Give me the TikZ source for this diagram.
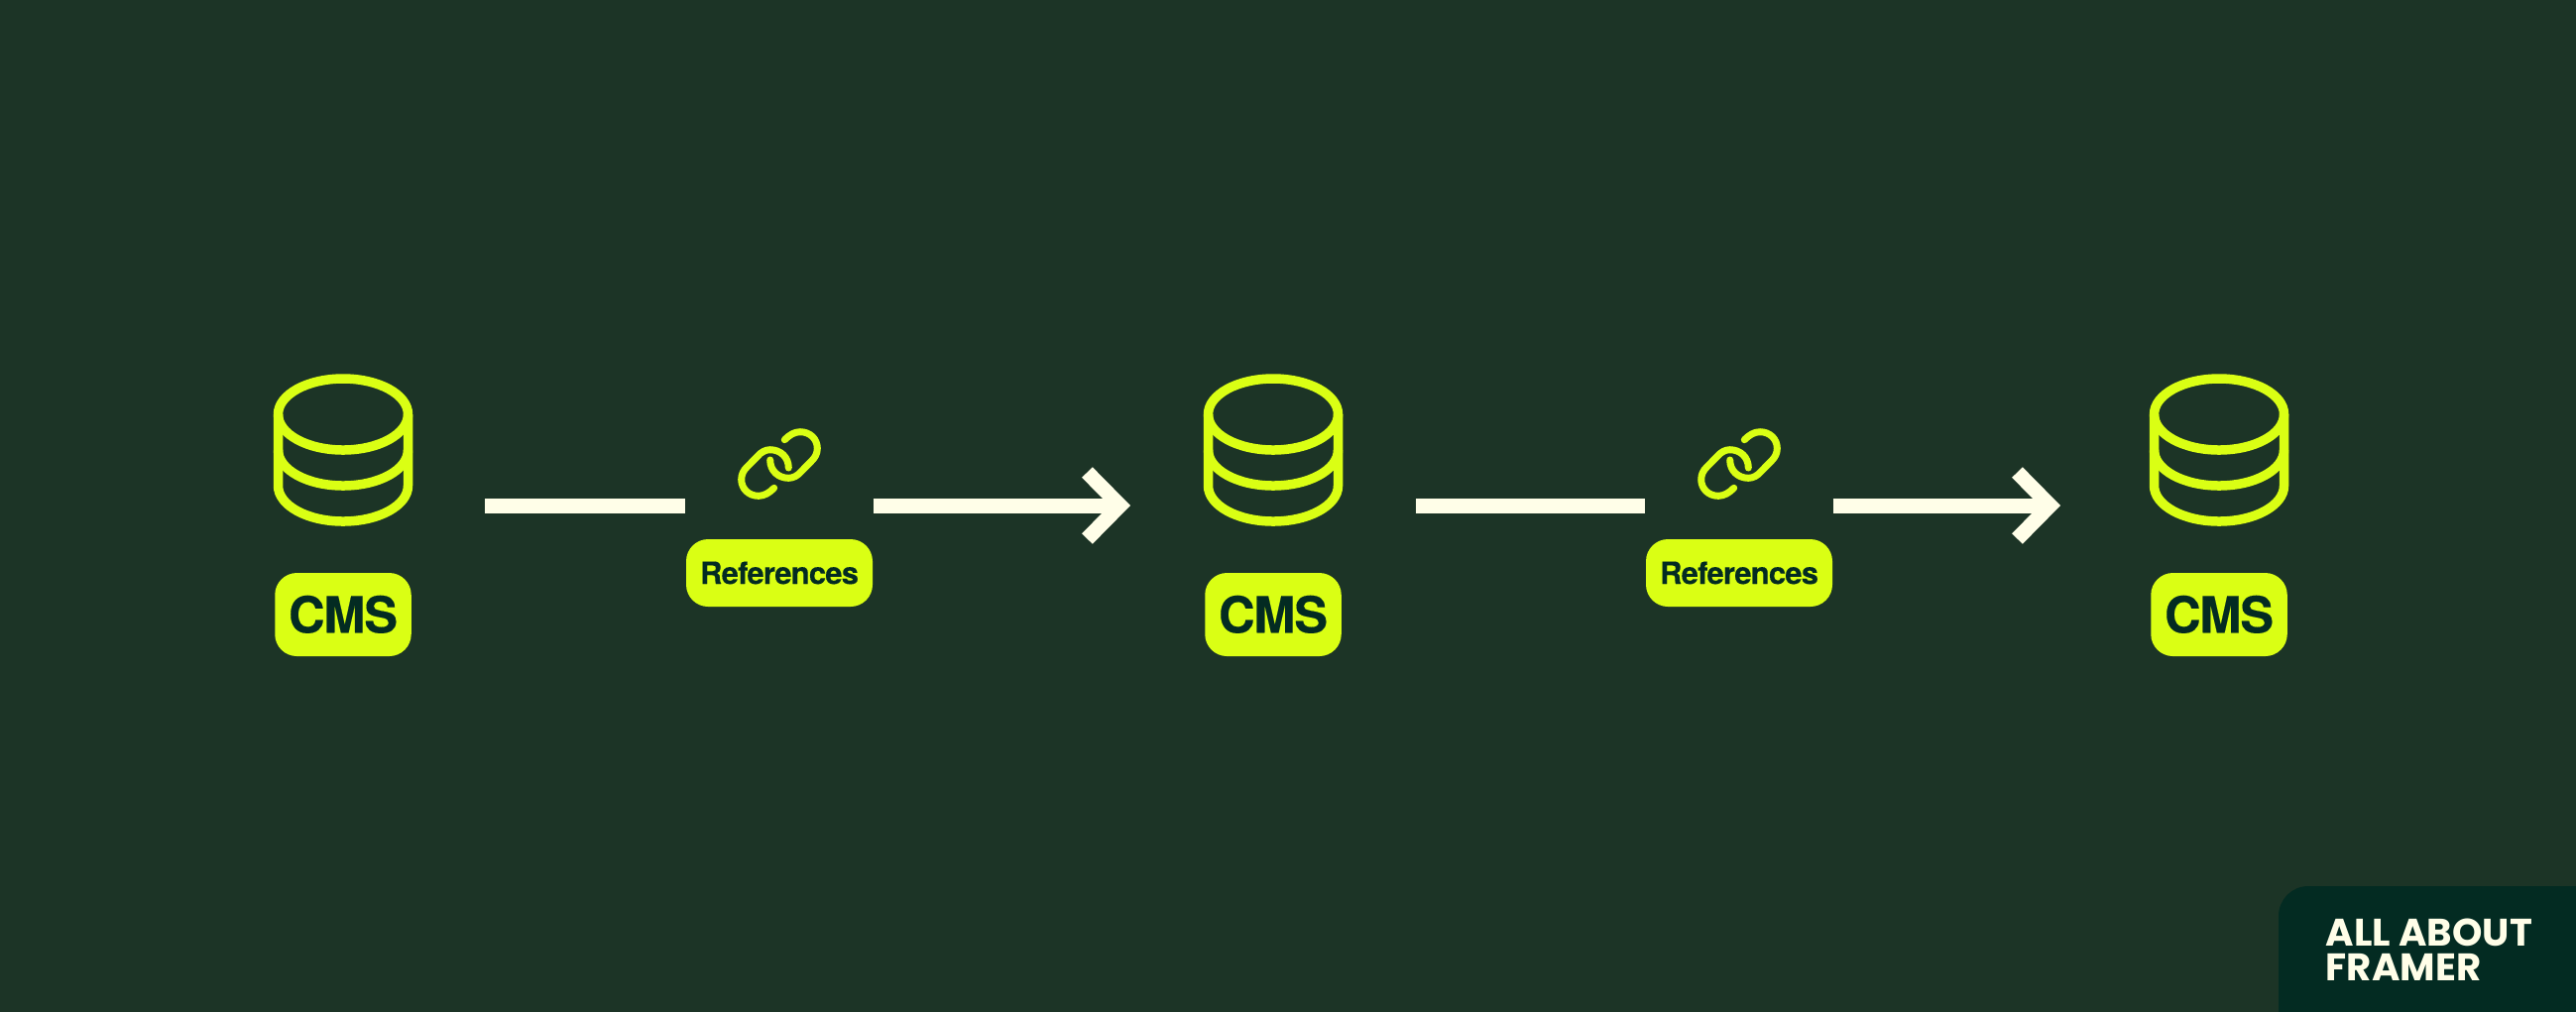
\documentclass[tikz,border=0pt]{standalone}
\usepackage{fontspec}
\setmainfont{Poppins}
\newfontfamily\tagfont[BoldFont=TeX Gyre Heros Bold, BoldFeatures={LetterSpace=-2.5, FakeBold=0.25}]{TeX Gyre Heros}
\usetikzlibrary{positioning, calc, arrows.meta}
\usepackage{xcolor}
\definecolor{forest}{RGB}{28,52,38}
\definecolor{deepgreen}{RGB}{3,43,34}
\definecolor{lime}{RGB}{218,255,20}
\definecolor{cream}{RGB}{255,254,232}
\tikzset{
  tagbox/.style={fill=lime, text=deepgreen, rounded corners=6.3pt, inner sep=0pt},
  cmstag/.style={tagbox, minimum width=137.5*0.01cm, minimum height=84*0.01cm, text height=11.4pt, text depth=1pt, font=\fontsize{14.4}{16}\selectfont\tagfont\bfseries},
  reftag/.style={tagbox, minimum width=188*0.01cm, minimum height=68*0.01cm, text height=7.3pt, text depth=1pt, font=\fontsize{8.8}{10}\selectfont\tagfont\bfseries},
  flow/.style={cream, line width=15*0.01cm},
  iconline/.style={lime, line join=round},
}
% cylinder icon, origin at the middle of the top ellipse
\newcommand{\dbicon}[2]{
  \begin{scope}[shift={(#1,#2)}]
    \draw[iconline, line width=9.5*0.01cm] (0,0) ellipse (65.5 and 36);
    \draw[iconline, line width=9.5*0.01cm] (-65.5,0) -- (-65.5,72) arc[start angle=180, end angle=360, x radius=65.5, y radius=-36] -- (65.5,0);
    \draw[iconline, line width=9.5*0.01cm] (-65.5,36) arc[start angle=180, end angle=360, x radius=65.5, y radius=-36];
  \end{scope}
}
% chain icon, origin at the middle of the icon
\newcommand{\linkhalf}{
  (-5.3,24.3) .. controls (-10,29) and (-15,32.3) .. (-21,32.3)
  .. controls (-31,32.3) and (-38.3,25) .. (-38.3,15.7)
  .. controls (-38.3,10.5) and (-36,6.5) .. (-33,3.5) -- (-22.7,-7)
  .. controls (-18.5,-12) and (-14,-14.3) .. (-9.3,-14.3)
  .. controls (1,-14.3) and (9.3,-7) .. (9.3,4)
}
\newcommand{\linkicon}[2]{
  \begin{scope}[shift={(#1,#2)}]
    \draw[iconline, line width=7*0.01cm, line cap=round] \linkhalf;
    \draw[iconline, line width=7*0.01cm, line cap=round, scale=-1] \linkhalf;
  \end{scope}
}
\begin{document}
\begin{tikzpicture}[x=0.01cm, y=-0.01cm]
  \useasboundingbox (0,0) rectangle (2598,1020);
  \fill[forest] (-5,-5) rectangle (2603,1025);
  % corner badge
  \fill[deepgreen, rounded corners=30*0.01cm] (2298,1060) -- (2298,894) -- (2640,894) -- (2640,1060) -- cycle;
  \node[cream, anchor=north west, inner sep=0pt, align=left, font=\fontsize{11}{10}\selectfont\bfseries] (badge) at (2345,926) {ALL ABOUT\\FRAMER};
  % cylinders
  \dbicon{346}{418}
  \dbicon{1284}{418}
  \dbicon{2238}{418}
  % labels
  \node[cmstag] (cmsa) at (346,620) {CMS};
  \node[cmstag] (cmsb) at (1284,620) {CMS};
  \node[cmstag] (cmsc) at (2238,620) {CMS};
  \node[reftag] (refa) at (786,578) {References};
  \node[reftag] (refb) at (1754,578) {References};
  \linkicon{786}{468}
  \linkicon{1754}{468}
  % free ends of the connectors
  \coordinate (outa) at (489,510);
  \coordinate (outb) at (1428,510);
  \coordinate (ina) at (1140,510);
  \coordinate (inb) at (2078,510);
  \draw[flow] (outa) -- (refa.west |- outa);
  \draw[flow, -{Straight Barb[length=33*0.01cm, width=67*0.01cm]}] (refa.east |- ina) -- (ina);
  \draw[flow] (outb) -- (refb.west |- outb);
  \draw[flow, -{Straight Barb[length=33*0.01cm, width=67*0.01cm]}] (refb.east |- inb) -- (inb);
\end{tikzpicture}
\end{document}
